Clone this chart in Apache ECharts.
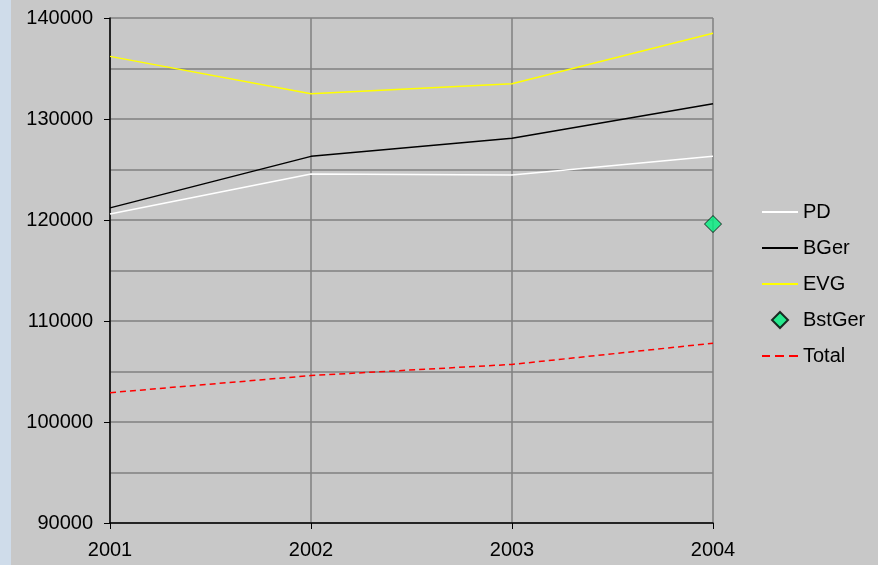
<!DOCTYPE html>
<html>
<head>
<meta charset="utf-8">
<script src="https://cdn.jsdelivr.net/npm/echarts@6/dist/echarts.min.js"></script>
<style>
  html, body { margin: 0; padding: 0; background: #c8c8c8; }
  #chart { width: 878px; height: 565px; }
</style>
</head>
<body>
<div id="chart"></div>
<script>
var years = ['2001', '2002', '2003', '2004'];
var pd = [120600, 124550, 124450, 126300];
var bger = [121200, 126300, 128100, 131500];
var evg = [136200, 132500, 133500, 138500];
var bstger = ['-', '-', '-', 119600];
var total = [102900, 104600, 105700, 107800];

var font = 'Liberation Sans, Arial, sans-serif';
// legend icons: plain line, dashed line, diamond
var lineIcon = 'path://M0,0 L36,0 L36,2 L0,2 Z';
var dashIcon = 'path://M0,0 L8,0 L8,2 L0,2 Z M13,0 L22,0 L22,2 L13,2 Z M27,0 L36,0 L36,2 L27,2 Z';
var diamondIcon = 'path://M8,0 L16,8 L8,16 L0,8 Z';

var chart = echarts.init(document.getElementById('chart'));

chart.setOption({
    backgroundColor: '#c8c8c8',
    animation: false,
    graphic: [{
        type: 'rect',
        left: 0, top: 0,
        shape: { width: 11, height: 565 },
        style: { fill: '#cfdcea' }
    }],
    grid: { left: 110, top: 18, right: 165, bottom: 42 },
    legend: {
        orient: 'vertical',
        left: 757,
        top: 196,
        itemWidth: 36,
        itemHeight: 16,
        itemGap: 14,
        textStyle: { fontFamily: font, fontSize: 20, color: '#000', lineHeight: 22 },
        data: [
            { name: 'PD', icon: lineIcon },
            { name: 'BGer', icon: lineIcon },
            { name: 'EVG', icon: lineIcon },
            { name: 'BstGer', icon: diamondIcon },
            { name: 'Total', icon: dashIcon }
        ]
    },
    xAxis: {
        type: 'category',
        data: years,
        boundaryGap: false,
        axisLine: { lineStyle: { color: '#000', width: 1.5 } },
        axisTick: { show: true, length: 6, lineStyle: { color: '#000' } },
        axisLabel: { fontFamily: font, fontSize: 20, color: '#000', margin: 17 },
        splitLine: { show: true, lineStyle: { color: '#808080', width: 1.5 } }
    },
    yAxis: {
        type: 'value',
        min: 90000,
        max: 140000,
        interval: 10000,
        axisLine: { show: true, lineStyle: { color: '#000', width: 1.5 } },
        axisTick: { show: true, length: 6, lineStyle: { color: '#000' } },
        axisLabel: {
            fontFamily: font, fontSize: 20, color: '#000', margin: 17,
            formatter: function (v) { return String(v); }
        },
        splitLine: { show: true, lineStyle: { color: '#808080', width: 1.5 } },
        minorTick: { show: false, splitNumber: 2 },
        minorSplitLine: { show: true, lineStyle: { color: '#808080', width: 1.5 } }
    },
    series: [
        { name: 'PD', type: 'line', data: pd, symbol: 'none',
          itemStyle: { color: '#ffffff' }, lineStyle: { color: '#ffffff', width: 1.5 } },
        { name: 'BGer', type: 'line', data: bger, symbol: 'none',
          itemStyle: { color: '#000000' }, lineStyle: { color: '#000000', width: 1.5 } },
        { name: 'EVG', type: 'line', data: evg, symbol: 'none',
          itemStyle: { color: '#ffff00' }, lineStyle: { color: '#ffff00', width: 1.5 } },
        { name: 'BstGer', type: 'scatter', data: bstger, symbol: 'diamond', symbolSize: 17,
          itemStyle: { color: '#00f080', borderColor: '#000', borderWidth: 1 } },
        { name: 'Total', type: 'line', data: total, symbol: 'none',
          itemStyle: { color: '#ff0000' },
          lineStyle: { color: '#ff0000', width: 1.5, type: [6, 4] } }
    ]
});
</script>
</body>
</html>
